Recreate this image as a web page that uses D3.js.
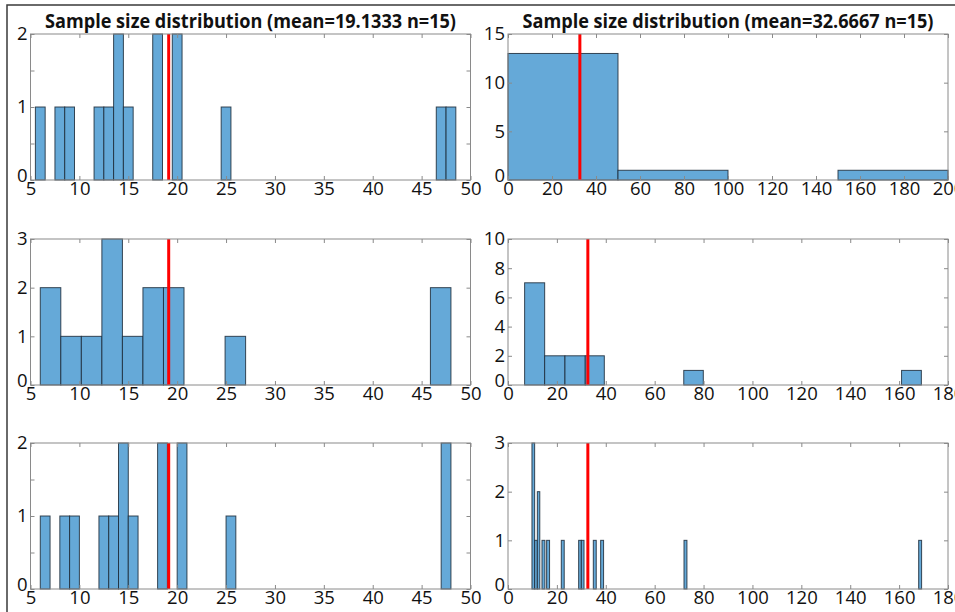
<!DOCTYPE html>
<html>
<head>
<meta charset="utf-8">
<script src="https://cdn.jsdelivr.net/npm/d3@7"></script>
<style>
    html, body { margin: 0; padding: 0; background: #fff; }
    svg { display: block; }
</style>
</head>
<body>
<div id="d3Hist"></div>
<script>
const _WIDTH = 955
const _HEIGHT = 612
const _COLS = [30.5, 508]
const _ROWS = [34, 239, 443]
const _PW = 440
const _PH = 146

// Data
// ===================================
const titles = [
    "Sample size distribution (mean=19.1333 n=15)",
    "Sample size distribution (mean=32.6667 n=15)",
]
const means = [19.1333, 32.6667]

// [binStart, binEnd, count]
const leftBins1 = [[5.5, 6.5, 1], [7.5, 8.5, 1], [8.5, 9.5, 1], [11.5, 12.5, 1], [12.5, 13.5, 1], [13.5, 14.5, 2],
    [14.5, 15.5, 1], [17.5, 18.5, 2], [19.5, 20.5, 2], [24.5, 25.5, 1], [46.5, 47.5, 1], [47.5, 48.5, 1]]
const leftBins2 = [[6, 8.1, 2], [8.1, 10.2, 1], [10.2, 12.3, 1], [12.3, 14.4, 3], [14.4, 16.5, 1], [16.5, 18.6, 2],
    [18.6, 20.7, 2], [24.9, 27, 1], [45.9, 48, 2]]
const leftBins3 = [[6, 7, 1], [8, 9, 1], [9, 10, 1], [12, 13, 1], [13, 14, 1], [14, 15, 2], [15, 16, 1],
    [18, 19, 2], [20, 21, 2], [25, 26, 1], [47, 48, 2]]

const rightBins1 = [[0, 50, 13], [50, 100, 1], [150, 200, 1]]
const rightBins2 = [[6.8, 15, 7], [15, 23.3, 2], [23.3, 31.6, 2], [31.6, 39.4, 2], [71.9, 79.9, 1], [161, 169.1, 1]]
const rightBins3 = [[9.8, 10.9, 3], [10.9, 12, 1], [12, 13, 2], [13.9, 15.1, 1], [15.8, 17, 1], [21.8, 23, 1],
    [28.9, 30, 1], [30, 31.1, 1], [34.9, 36.1, 1], [37.9, 39.1, 1], [72, 73.2, 1], [168, 169.2, 1]]

const xDomains = [[5, 50], [0, 200], [5, 50], [0, 180], [5, 50], [0, 180]]
const xTickStep = [5, 20, 5, 20, 5, 20]
const yMax = [2, 15, 3, 10, 2, 3]
const yLabelStep = [1, 5, 1, 2, 1, 1]
const yTickStep = [0.5, 5, 1, 2, 0.5, 1]

const panels = [leftBins1, rightBins1, leftBins2, rightBins2, leftBins3, rightBins3]

// Draw
// ===================================
const svg = d3
    .select("#d3Hist")
    .append("svg")
    .attr("width", _WIDTH)
    .attr("height", _HEIGHT)

svg
    .append("rect")
    .attr("x", 7)
    .attr("y", 5)
    .attr("width", 1200)
    .attr("height", 800)
    .attr("fill", "none")
    .attr("stroke", "#3a3a3a")
    .attr("stroke-width", 1.5)

const range = (a, b, s) => d3.range(a, b + s / 2, s)

panels.forEach((bins, i) => {
    const col = i % 2
    const row = Math.floor(i / 2)
    const g = svg
        .append("g")
        .attr("transform", `translate(${_COLS[col]},${_ROWS[row]})`)

    const xScale = d3.scaleLinear().domain(xDomains[i]).range([0, _PW])
    const yScale = d3.scaleLinear().domain([0, yMax[i]]).range([_PH, 0])
    const xTicks = range(xDomains[i][0], xDomains[i][1], xTickStep[i])
    const yLabels = range(0, yMax[i], yLabelStep[i])
    const yTicks = range(0, yMax[i], yTickStep[i])

    // bars
    g
        .selectAll("rect.bar")
        .data(bins)
        .join("rect")
        .attr("class", "bar")
        .attr("x", d => xScale(d[0]))
        .attr("width", d => xScale(d[1]) - xScale(d[0]))
        .attr("y", d => yScale(d[2]))
        .attr("height", d => yScale(0) - yScale(d[2]))
        .attr("fill", "#65a9d8")
        .attr("stroke", "#1c2a38")
        .attr("stroke-opacity", 0.85)
        .attr("stroke-width", 1)

    // mean line
    g
        .append("line")
        .attr("x1", xScale(means[col]))
        .attr("x2", xScale(means[col]))
        .attr("y1", yScale(0))
        .attr("y2", yScale(yMax[i]))
        .attr("stroke", "#ff0000")
        .attr("stroke-width", 3)

    // axes
    const styleAxis = sel => {
        sel.select(".domain").remove()
        sel.selectAll(".tick line").attr("stroke", "#8a8a8a")
        sel.selectAll("text")
            .attr("fill", "#111")
            .attr("font-family", "'Open Sans', sans-serif")
            .attr("font-size", 18.5)
    }
    g
        .append("g")
        .attr("transform", `translate(0,${_PH})`)
        .call(d3.axisBottom(xScale).tickValues(xTicks).tickFormat(d3.format("d")).tickSize(-4).tickPadding(2))
        .call(styleAxis)
    g
        .append("g")
        .call(d3.axisTop(xScale).tickValues(xTicks).tickFormat("").tickSize(-4))
        .call(styleAxis)
    g
        .append("g")
        .call(d3.axisLeft(yScale).tickValues(yTicks).tickFormat("").tickSize(-4))
        .call(styleAxis)
    g
        .append("g")
        .call(d3.axisLeft(yScale).tickValues(yLabels).tickFormat(d3.format("d")).tickSize(0).tickPadding(3))
        .call(styleAxis)
        .selectAll(".tick text")
        .attr("y", d => d === 0 ? -4 : 0)
    g
        .append("g")
        .attr("transform", `translate(${_PW},0)`)
        .call(d3.axisRight(yScale).tickValues(yTicks).tickFormat("").tickSize(-4))
        .call(styleAxis)

    // box
    g
        .append("rect")
        .attr("width", _PW)
        .attr("height", _PH)
        .attr("fill", "none")
        .attr("stroke", "#8a8a8a")
        .attr("stroke-width", 1)

    // title
    if (row === 0) {
        g
            .append("text")
            .attr("x", _PW / 2)
            .attr("y", -6)
            .attr("text-anchor", "middle")
            .attr("font-family", "'Open Sans', sans-serif")
            .attr("font-weight", "bold")
            .attr("font-size", 19)
            .attr("fill", "#111")
            .attr("textLength", 411)
            .attr("lengthAdjust", "spacingAndGlyphs")
            .text(titles[col])
    }
})
</script>
</body>
</html>
